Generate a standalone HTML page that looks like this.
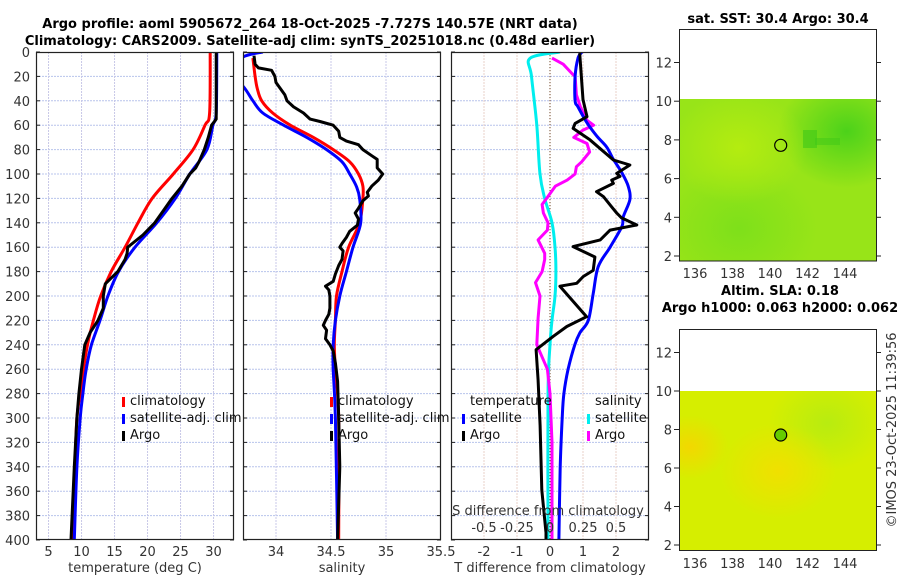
<!DOCTYPE html>
<html><head><meta charset="utf-8"><style>
html,body{margin:0;padding:0;background:#fff}
svg{display:block;font-family:"DejaVu Sans","Liberation Sans",sans-serif}
.tk{font-size:13px;fill:#333}
.tt{font-size:13px;font-weight:bold;fill:#000}
.lg{font-size:13px;fill:#111}
</style></head><body>
<svg id="chart" width="900" height="580" viewBox="0 0 900 580" xmlns="http://www.w3.org/2000/svg">
<defs>
<clipPath id="c1"><rect x="36" y="52" width="198" height="488"/></clipPath>
<clipPath id="c2"><rect x="243" y="52" width="198" height="488"/></clipPath>
<clipPath id="c3"><rect x="451" y="52" width="198" height="488"/></clipPath>
<radialGradient id="g1" cx="0.85" cy="0.2" r="0.35"><stop offset="0" stop-color="#4cd21a"/><stop offset="1" stop-color="#4cd21a" stop-opacity="0"/></radialGradient>
<radialGradient id="g2" cx="0.3" cy="0.8" r="0.4"><stop offset="0" stop-color="#7ee01a"/><stop offset="1" stop-color="#7ee01a" stop-opacity="0"/></radialGradient>
<radialGradient id="g3" cx="0.3" cy="0.3" r="0.35"><stop offset="0" stop-color="#b4ec10"/><stop offset="1" stop-color="#b4ec10" stop-opacity="0"/></radialGradient>
<radialGradient id="h1" cx="0.75" cy="0.2" r="0.3"><stop offset="0" stop-color="#b8ec10"/><stop offset="1" stop-color="#b8ec10" stop-opacity="0"/></radialGradient>
<radialGradient id="h2" cx="0.5" cy="0.5" r="0.3"><stop offset="0" stop-color="#f0e000"/><stop offset="1" stop-color="#f0e000" stop-opacity="0"/></radialGradient>
<radialGradient id="h3" cx="0.05" cy="0.35" r="0.2"><stop offset="0" stop-color="#f2d800"/><stop offset="1" stop-color="#f2d800" stop-opacity="0"/></radialGradient>
</defs>
<g id="grid"></g>
<g id="series"></g>
<g id="frames"></g>
<g id="texts"></g>

<text class="tt" x="310" y="28" text-anchor="middle">Argo profile: aoml 5905672_264 18-Oct-2025 -7.727S 140.57E (NRT data)</text>
<text class="tt" x="310" y="45" text-anchor="middle">Climatology: CARS2009. Satellite-adj clim: synTS_20251018.nc (0.48d earlier)</text>

<text class="tk" x="135" y="572" text-anchor="middle">temperature (deg C)</text>
<text class="tk" x="342" y="572" text-anchor="middle">salinity</text>
<text class="tk" x="550" y="572" text-anchor="middle">T difference from climatology</text>
<text class="tk" x="548" y="515" text-anchor="middle">S difference from climatology</text>

<g>
<rect x="122" y="397" width="3" height="10" fill="#f00"/><text class="lg" x="130" y="405">climatology</text>
<rect x="122" y="414" width="3" height="10" fill="#00f"/><text class="lg" x="130" y="422">satellite-adj. clim</text>
<rect x="122" y="431" width="3" height="10" fill="#000"/><text class="lg" x="130" y="439">Argo</text>
</g>
<g>
<rect x="330" y="397" width="3" height="10" fill="#f00"/><text class="lg" x="338" y="405">climatology</text>
<rect x="330" y="414" width="3" height="10" fill="#00f"/><text class="lg" x="338" y="422">satellite-adj. clim</text>
<rect x="330" y="431" width="3" height="10" fill="#000"/><text class="lg" x="338" y="439">Argo</text>
</g>
<g>
<text class="lg" x="470" y="405">temperature</text>
<rect x="462" y="414" width="3" height="10" fill="#00f"/><text class="lg" x="470" y="422">satellite</text>
<rect x="462" y="431" width="3" height="10" fill="#000"/><text class="lg" x="470" y="439">Argo</text>
<text class="lg" x="595" y="405">salinity</text>
<rect x="587" y="414" width="3" height="10" fill="#0ee"/><text class="lg" x="595" y="422">satellite</text>
<rect x="587" y="431" width="3" height="10" fill="#f0f"/><text class="lg" x="595" y="439">Argo</text>
</g>

<g>
<text class="tt" x="778" y="23" text-anchor="middle">sat. SST: 30.4 Argo: 30.4</text>
<rect x="680" y="99" width="196" height="162" fill="#98e418"/>
<rect x="680" y="99" width="196" height="162" fill="url(#g1)"/>
<rect x="680" y="99" width="196" height="162" fill="url(#g2)"/>
<rect x="680" y="99" width="196" height="162" fill="url(#g3)"/>
<rect x="803" y="130" width="14" height="18" fill="#40c818" opacity="0.6"/>
<rect x="815" y="138" width="25" height="7" fill="#40c818" opacity="0.5"/>
<circle cx="780.7" cy="145.3" r="6" fill="none" stroke="#000" stroke-width="1.2"/>
<rect x="679.5" y="29.5" width="197" height="231.5" fill="none" stroke="#222"/>
</g>
<g>
<text class="tt" x="780" y="295" text-anchor="middle">Altim. SLA: 0.18</text>
<text class="tt" x="780" y="312" text-anchor="middle">Argo h1000: 0.063 h2000: 0.062</text>
<rect x="680" y="391" width="196" height="160" fill="#d6ee00"/>
<rect x="680" y="391" width="196" height="160" fill="url(#h1)"/>
<rect x="680" y="391" width="196" height="160" fill="url(#h2)"/>
<rect x="680" y="391" width="196" height="160" fill="url(#h3)"/>
<circle cx="780.7" cy="435" r="6" fill="#66cc00" stroke="#000" stroke-width="1.2"/>
<rect x="679.5" y="329.5" width="197" height="221" fill="none" stroke="#222"/>
</g>
<text class="tk" transform="translate(896,430) rotate(-90)" text-anchor="middle">©IMOS 23-Oct-2025 11:39:56</text>
</svg>
<script>
const tempDepths = [0,50,60,80,100,120,140,160,180,200,220,240,260,280,300,340,400];
const tempClim   = [29.5,29.4,28.7,26.9,23.9,20.7,18.55,16.6,14.5,12.9,11.8,10.9,10.3,9.8,9.3,9.0,8.6];
const tempSat    = [30.5,30.4,29.9,29.0,26.4,24.2,21.4,18.1,15.6,14.0,12.8,11.5,10.7,10.2,9.8,9.3,8.9];
const argoTDepths= [0,55,60,70,80,90,95,100,110,120,130,140,150,160,165,170,180,190,200,210,220,230,240,260,280,300,340,400];
const argoTemp   = [30.4,30.4,29.7,29.2,28.6,27.8,27.3,26.4,25.2,23.7,22.4,21.1,19.3,17.0,16.9,16.6,15.5,13.6,13.3,13.3,12.5,11.3,10.5,10.0,9.6,9.3,8.9,8.4];

const salClimDepths = [5,20,30,40,50,60,70,80,90,100,110,120,140,160,180,200,220,240,260,300,400];
const salClim       = [33.79,33.81,33.83,33.87,33.97,34.13,34.34,34.52,34.67,34.75,34.79,34.79,34.76,34.66,34.6,34.55,34.54,34.53,34.54,34.57,34.57];
const salSatDepths  = [0,4,15,28,40,50,60,70,80,90,100,110,120,140,160,180,200,220,240,260,300,400];
const salSat        = [33.88,33.70,33.55,33.70,33.79,33.88,34.07,34.28,34.46,34.6,34.67,34.73,34.76,34.77,34.7,34.64,34.58,34.54,34.52,34.52,34.54,34.56];
const argoSDepths   = [3,10,13,15,20,25,30,35,40,45,50,55,57,60,65,70,73,76,80,85,88,95,100,105,110,115,118,122,128,132,137,142,147,152,157,160,163,170,175,182,188,192,195,200,210,215,220,224,228,235,240,245,255,270,300,340,400];
const argoSal       = [33.8,33.81,33.84,33.96,33.99,34.0,34.04,34.08,34.1,34.16,34.25,34.31,34.4,34.52,34.57,34.58,34.64,34.75,34.79,34.87,34.92,34.92,34.97,34.93,34.87,34.83,34.84,34.79,34.75,34.72,34.75,34.74,34.67,34.64,34.6,34.58,34.61,34.6,34.57,34.54,34.52,34.45,34.48,34.49,34.49,34.48,34.45,34.43,34.46,34.45,34.49,34.52,34.54,34.56,34.57,34.58,34.56];

const satTDiffDepths = [0,5,20,40,45,58,69,78,88,99,110,121,135,143,160,176,198,220,230,240,260,280,300,340,400];
const satTDiff       = [0.97,0.85,0.76,0.76,0.85,1.12,1.42,1.72,1.92,2.18,2.37,2.42,2.22,2.18,1.82,1.46,1.31,1.16,0.91,0.75,0.55,0.42,0.37,0.31,0.27];
const argoTDiffDepths= [1,39,53,58.5,62.6,72,88.5,92.6,99.5,102,105,107.7,114.5,118.6,127,132,136,141.8,146,154,159.5,168,179,184,189.6,192,217,225,233,244,269,306,359,394,400];
const argoTDiff      = [0.9,1.0,1.12,0.76,0.7,1.21,1.92,2.42,2.02,2.12,1.87,1.92,1.41,1.62,1.87,2.02,2.17,2.63,1.82,1.52,0.7,1.36,1.31,1.01,0.81,0.3,1.11,0.51,0.1,-0.42,-0.36,-0.3,-0.25,-0.12,-0.12];
const satSDiffDepths = [0,5,20,60,100,120,140,160,180,200,220,240,280,400];
const satSDiff       = [0.076,-0.15,-0.14,-0.1,-0.076,-0.04,0.015,0.038,0.045,0.038,0.015,0.0,-0.015,-0.015];
const argoSDiffDepths= [5,10,18,20,35,45,56,60,64,70,75,82,90,94,100,105,110,119,125,132,140,146,154,165,170,180,189,200,218,240,260,280,320,400];
const argoSDiff      = [0.015,0.1,0.17,0.19,0.2,0.23,0.28,0.33,0.25,0.18,0.28,0.3,0.24,0.2,0.19,0.13,0.04,-0.02,-0.06,-0.05,-0.015,-0.02,-0.09,-0.04,-0.04,-0.06,-0.11,-0.076,-0.09,-0.1,-0.02,0.0,0.015,0.015];

const depthTicks = [0,20,40,60,80,100,120,140,160,180,200,220,240,260,280,300,320,340,360,380,400];
const tempTicks = [5,10,15,20,25,30];
const salTicks = [34,34.5,35,35.5];
const tDiffTicks = [-2,-1,0,1,2];
const sDiffTicks = [-0.5,-0.25,0,0.25,0.5];
const sDiffLabels = ["-0.5","-0.25","0","0.25","0.5"];
const mapLatTicks = [2,4,6,8,10,12];
const mapLonTicks = [136,138,140,142,144];

const NS="http://www.w3.org/2000/svg";
const Y0=52, Y1=540;
const yD = d => Y0 + d*(Y1-Y0)/400;
function lin(d0,d1,r0,r1){return v=>r0+(v-d0)*(r1-r0)/(d1-d0);}
const P1={x0:36,x1:234}, P2={x0:243,x1:441}, P3={x0:451,x1:649};
const xT = lin(3.1,33.1,P1.x0,P1.x1);
const xS = lin(33.7,35.5,P2.x0,P2.x1);
const xTD = lin(-3,3,P3.x0,P3.x1);
const xSD = lin(-0.75,0.75,P3.x0,P3.x1);
const mapX = lin(136,144,695,845);
const mapY1 = lin(2,12,256,62.5);
const mapY2 = lin(2,10,545,391);

function el(tag,attrs,parent){const e=document.createElementNS(NS,tag);for(const k in attrs)e.setAttribute(k,attrs[k]);parent.appendChild(e);return e;}
const grid=document.getElementById('grid'), ser=document.getElementById('series'), fr=document.getElementById('frames'), tx=document.getElementById('texts');

[P1,P2,P3].forEach(p=>{
  depthTicks.forEach(d=>{ if(d>0&&d<400){const l=el('line',{x1:p.x0,x2:p.x1,y1:yD(d),y2:yD(d),stroke:'#b8c4ec','stroke-width':1,'stroke-dasharray':'2,1'},grid);
  
  }
  });
});
function vgrid(ticks,fx,col){ticks.forEach(v=>{const x=fx(v);const l=el('line',{x1:x,x2:x,y1:Y0,y2:Y1,stroke:col,'stroke-width':1,'stroke-dasharray':'2,1'},grid);

});}
vgrid(tempTicks,xT,'#c8c8e8');
vgrid(salTicks.slice(0,3),xS,'#c8c8e8');
vgrid(tDiffTicks,xTD,'#c8c8e8');
vgrid(sDiffTicks,xSD,'#e8d0c8');

const zl=el('line',{x1:xTD(0),x2:xTD(0),y1:Y0,y2:Y1,stroke:'#6b4a2a','stroke-width':1,'stroke-dasharray':'1,2'},ser);



function line(depths,vals,fx,color,clip,name,smooth){
  const pts=depths.map((dd,i)=>[fx(vals[i]),yD(dd)]);
  let d='M'+pts[0][0].toFixed(1)+','+pts[0][1].toFixed(1);
  for(let i=1;i<pts.length;i++){
    if(smooth){
      const p0=pts[Math.max(0,i-2)],p1=pts[i-1],p2=pts[i],p3=pts[Math.min(pts.length-1,i+1)];
      const c1=[p1[0]+(p2[0]-p0[0])/6,p1[1]+(p2[1]-p0[1])/6];
      const c2=[p2[0]-(p3[0]-p1[0])/6,p2[1]-(p3[1]-p1[1])/6];
      d+='C'+c1[0].toFixed(1)+','+c1[1].toFixed(1)+' '+c2[0].toFixed(1)+','+c2[1].toFixed(1)+' '+p2[0].toFixed(1)+','+p2[1].toFixed(1);
    } else d+='L'+pts[i][0].toFixed(1)+','+pts[i][1].toFixed(1);
  }
  const p=el('path',{d:d,fill:'none',stroke:color,'stroke-width':3,'stroke-linejoin':'round','clip-path':'url(#'+clip+')'},ser);
  
  
}
line(tempDepths,tempClim,xT,'#f00','c1','temperature-climatology-line',true);
line(tempDepths,tempSat,xT,'#00f','c1','temperature-satellite-line',true);
line(argoTDepths,argoTemp,xT,'#000','c1','temperature-argo-line',false);
line(salClimDepths,salClim,xS,'#f00','c2','salinity-climatology-line',true);
line(salSatDepths,salSat,xS,'#00f','c2','salinity-satellite-line',true);
line(argoSDepths,argoSal,xS,'#000','c2','salinity-argo-line',false);
line(satSDiffDepths,satSDiff,xSD,'#0ee','c3','s-diff-satellite-line',true);
line(argoSDiffDepths,argoSDiff,xSD,'#f0f','c3','s-diff-argo-line',false);
line(satTDiffDepths,satTDiff,xTD,'#00f','c3','t-diff-satellite-line',true);
line(argoTDiffDepths,argoTDiff,xTD,'#000','c3','t-diff-argo-line',false);

[P1,P2,P3].forEach((p,i)=>{
  const r=el('rect',{x:p.x0+0.5,y:Y0+0.5,width:p.x1-p.x0-1,height:Y1-Y0-1,fill:'none',stroke:'#222','stroke-width':1.2},fr);
  
  
  depthTicks.forEach(d=>{
    el('line',{x1:p.x0,x2:p.x0+4,y1:yD(d),y2:yD(d),stroke:'#222'},fr);
    el('line',{x1:p.x1-4,x2:p.x1,y1:yD(d),y2:yD(d),stroke:'#222'},fr);
  });
});
depthTicks.forEach(d=>{
  const t=el('text',{x:30,y:yD(d)+5,'text-anchor':'end',class:'tk'},tx);t.textContent=d;
  
  
});
function xlabels(ticks,fx,labels,y,name){ticks.forEach((v,i)=>{const t=el('text',{x:fx(v),y:y,'text-anchor':'middle',class:'tk'},tx);t.textContent=labels?labels[i]:v;

});}
xlabels(tempTicks,xT,null,556,'temperature-tick-label');
xlabels(salTicks,xS,null,556,'salinity-tick-label');
xlabels(tDiffTicks,xTD,null,556,'t-diff-tick-label');
xlabels(sDiffTicks,xSD,sDiffLabels,532,'s-diff-tick-label');

function mapTicks(fy,yb,name){
  mapLatTicks.forEach(v=>{const y=fy(v);if(y < yb-2 && y > fy(14)){
    const t=el('text',{x:672,y:y+5,'text-anchor':'end',class:'tk'},tx);t.textContent=v;
    
    
    el('line',{x1:876,x2:881,y1:y,y2:y,stroke:'#222'},fr);
    el('line',{x1:674,x2:680,y1:y,y2:y,stroke:'#222'},fr);}});
  mapLonTicks.forEach(v=>{const t=el('text',{x:mapX(v),y:yb+17,'text-anchor':'middle',class:'tk'},tx);t.textContent=v;
    
    });
}
mapTicks(mapY1,261,'sst-map');
mapTicks(mapY2,551,'sla-map');
</script>
</body></html>
